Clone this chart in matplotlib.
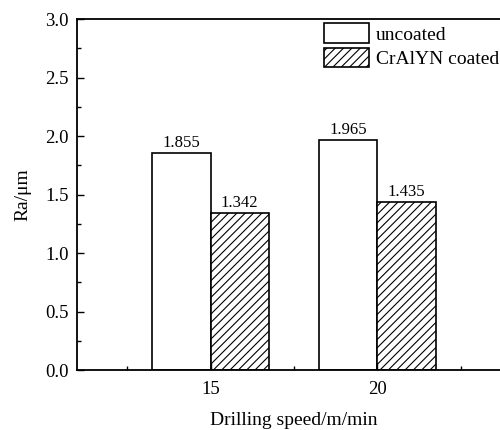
import matplotlib
matplotlib.use("Agg")
import matplotlib.pyplot as plt
import numpy as np
from matplotlib.ticker import MultipleLocator, FormatStrFormatter

plt.rcParams['font.family'] = ['Liberation Serif', 'DejaVu Serif']
plt.rcParams['hatch.linewidth'] = 0.8

speeds = [15, 20]
speed_labels = ["15", "20"]
uncoated = [1.855, 1.965]
coated = [1.342, 1.435]
series_names = ["uncoated", "CrAlYN coated"]

fig = plt.figure(figsize=(5.0, 4.3), dpi=100)
ax = fig.add_axes([0.154, 0.1395, 0.868, 0.8163])

w = 1.74
x = np.array(speeds, dtype=float)
b1 = ax.bar(x - w / 2, uncoated, width=w, facecolor='white', edgecolor='black',
            linewidth=1.2, label=series_names[0])
b2 = ax.bar(x + w / 2, coated, width=w, facecolor='white', edgecolor='black',
            linewidth=1.2, hatch='////', label=series_names[1])

for bars, vals in ((b1, uncoated), (b2, coated)):
    for r, v in zip(bars, vals):
        ax.text(r.get_x() + r.get_width() / 2, v + 0.015, f"{v:.3f}",
                ha='center', va='bottom', fontsize=12)

ax.set_xlim(11, 24)
ax.set_ylim(0, 3.0)
ax.set_xticks(speeds)
ax.set_xticklabels(speed_labels)
ax.set_xticks([12.5, 17.5, 22.5], minor=True)
ax.yaxis.set_major_locator(MultipleLocator(0.5))
ax.yaxis.set_minor_locator(MultipleLocator(0.25))
ax.yaxis.set_major_formatter(FormatStrFormatter('%.1f'))
ax.tick_params(which='both', direction='in', top=False, right=False, labelsize=13.5)
ax.tick_params(which='major', length=5, width=1)
ax.tick_params(which='minor', length=3, width=1)
ax.tick_params(axis='y', which='major', pad=6)
ax.tick_params(axis='x', which='major', pad=8)
for s in ax.spines.values():
    s.set_linewidth(1.3)

ax.set_xlabel("Drilling speed/m/min", fontsize=14, labelpad=10)
ax.set_ylabel("Ra/μm", fontsize=14, labelpad=10)

ax.legend(loc='upper left', bbox_to_anchor=(0.552, 1.01), frameon=False,
          fontsize=14, handlelength=2.3, handleheight=1.15,
          handletextpad=0.35, labelspacing=0.22, borderaxespad=0.0)

fig.savefig("out.png", dpi=100)
